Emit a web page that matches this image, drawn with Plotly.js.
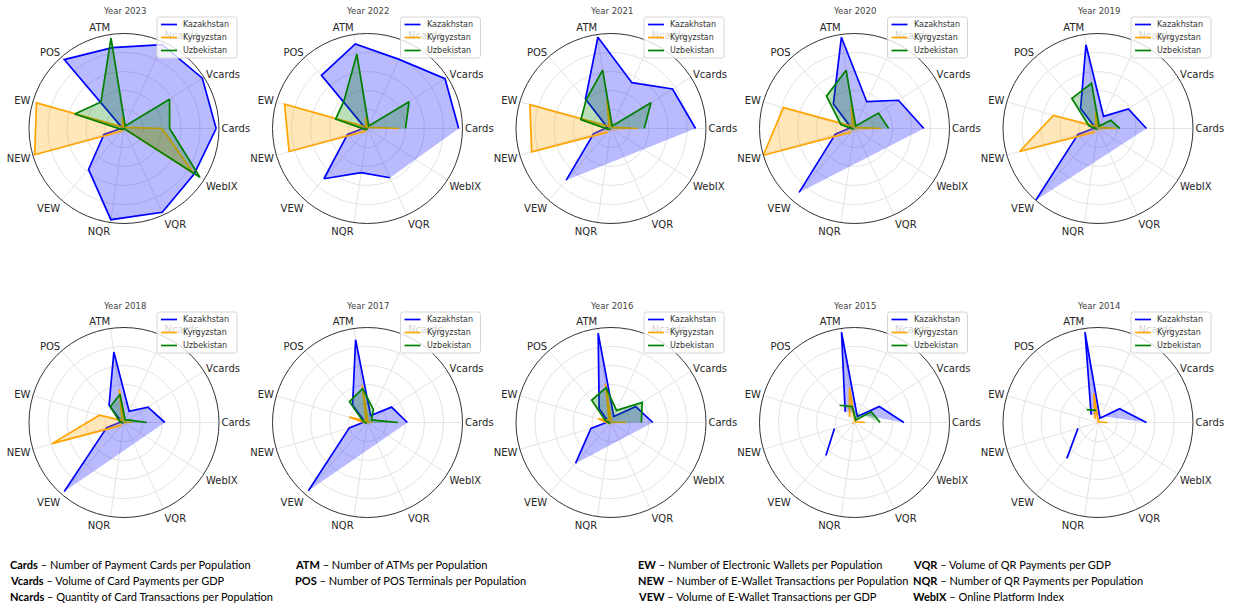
<!DOCTYPE html>
<html>
<head>
<meta charset="utf-8">
<script src="https://cdn.plot.ly/plotly-3.0.1.min.js"></script>
<style>html,body{margin:0;padding:0;background:#fff;}#chart{width:1241px;height:608px;}</style>
</head>
<body>
<div id="chart"></div>
<script>
// ---------- DATA ----------
const categories = ['Cards','Vcards','Ncards','ATM','POS','EW','NEW','VEW','NQR','VQR','WebIX'];
const years = [2023, 2022, 2021, 2020, 2019, 2018, 2017, 2016, 2015, 2014];
const countries = ['Kazakhstan', 'Kyrgyzstan', 'Uzbekistan'];
const N = null;
// values per year (same order as years), each in category order
const kazakhstan = [
  [0.97, 0.98, 0.97, 0.86, 0.96, 0.02, 0.22, 0.57, 0.97, 0.97, 0.88],
  [0.96, 0.97, 0.80, 0.90, 0.74, 0.03, 0.22, 0.70, 0.47, 0.57, N],
  [0.89, 0.77, 0.53, 0.97, 0.41, 0.04, 0.19, 0.72, N, N, N],
  [0.73, 0.55, 0.31, 0.97, 0.34, 0.04, 0.21, 0.89, N, N, N],
  [0.51, 0.38, 0.14, 0.89, 0.28, 0.03, 0.22, 1.00, N, N, N],
  [0.43, 0.30, 0.13, 0.75, 0.24, 0.03, 0.19, 0.96, N, N, N],
  [0.42, 0.30, 0.08, 0.88, 0.24, 0.03, 0.20, 0.95, N, N, N],
  [0.44, 0.31, 0.07, 0.95, 0.19, 0.03, 0.22, 0.57, N, N, N],
  [0.52, 0.31, 0.07, 0.96, 0.15, N, 0.22, 0.46, N, N, N],
  [0.51, 0.27, 0.05, 0.96, 0.11, N, 0.22, 0.50, N, N, N]
];
const kyrgyzstan = [
  [0.40, 0.02, 0.02, 0.12, 0.02, 0.96, 0.98, 0.04, 0.00, 0.00, 0.87],
  [0.33, 0.02, 0.02, 0.12, 0.02, 0.91, 0.86, 0.04, 0.00, 0.00, N],
  [0.28, 0.02, 0.02, 0.30, 0.03, 0.89, 0.87, 0.05, N, N, N],
  [0.28, 0.02, 0.02, 0.25, 0.03, 0.78, 1.00, 0.05, N, N, N],
  [0.19, 0.02, 0.02, 0.18, 0.03, 0.49, 0.86, 0.05, N, N, N],
  [0.08, 0.01, 0.02, 0.35, 0.03, 0.27, 0.79, 0.04, N, N, N],
  [0.05, 0.01, 0.01, 0.40, 0.02, 0.20, 0.02, 0.02, N, N, N],
  [0.16, 0.01, 0.01, 0.41, 0.03, 0.14, 0.03, 0.02, N, N, N],
  [0.11, 0.01, 0.01, 0.37, 0.08, N, 0.02, 0.02, N, N, N],
  [0.10, 0.01, 0.01, 0.31, 0.05, N, 0.01, 0.01, N, N, N]
];
const uzbekistan = [
  [0.48, 0.57, 0.03, 0.96, 0.37, 0.54, 0.03, 0.01, 0.00, 0.00, 0.95],
  [0.40, 0.52, 0.03, 0.79, 0.38, 0.35, 0.03, 0.01, 0.00, 0.00, N],
  [0.35, 0.50, 0.03, 0.62, 0.40, 0.33, 0.03, 0.01, N, N, N],
  [0.36, 0.30, 0.03, 0.62, 0.45, 0.15, 0.02, 0.01, N, N, N],
  [0.23, 0.16, 0.03, 0.48, 0.42, 0.10, 0.02, 0.01, N, N, N],
  [0.24, 0.05, 0.03, 0.30, 0.22, 0.05, 0.02, 0.01, N, N, N],
  [0.32, 0.05, 0.15, 0.36, 0.29, 0.05, 0.02, 0.01, N, N, N],
  [0.32, 0.39, 0.14, 0.37, 0.31, 0.06, 0.02, 0.01, N, N, N],
  [0.27, 0.21, 0.03, 0.17, 0.24, N, N, N, N, N, N],
  [N, N, N, 0.13, 0.18, N, N, N, N, N, N]
];
const seriesData = [kazakhstan, kyrgyzstan, uzbekistan];
const lineColors = ['#0000ff', '#ffa500', '#008000'];
const fillColors = ['rgba(0,0,255,0.27)', 'rgba(255,165,0,0.27)', 'rgba(0,128,0,0.27)'];

const footerCols = [
  [['Cards','Number of Payment Cards per Population'],['Vcards','Volume of Card Payments per GDP'],['Ncards','Quantity of Card Transactions per Population']],
  [['ATM','Number of ATMs per Population'],['POS','Number of POS Terminals per Population']],
  [['EW','Number of Electronic Wallets per Population'],['NEW','Number of E-Wallet Transactions per Population'],['VEW','Volume of E-Wallet Transactions per GDP']],
  [['VQR','Volume of QR Payments per GDP'],['NQR','Number of QR Payments per Population'],['WebIX','Online Platform Index']]
];

// ---------- LAYOUT ----------
const W = 1241, H = 608;
const centersX = [124, 367.5, 611, 854.5, 1098];
const centersY = [128.5, 422.5];
const R = 95;
const legendTops = [17, 312];
const footerX = [9, 294, 637, 912];
const footerLineY = [564.5, 580.5, 596];

const px = x => x / W;
const py = y => 1 - y / H;

const traces = [];
const layout = {
  width: W, height: H,
  margin: {l: 0, r: 0, t: 0, b: 0},
  paper_bgcolor: '#ffffff',
  font: {family: 'DejaVu Sans', color: '#222'},
  annotations: [],
  shapes: [],
  showlegend: false
};

years.forEach((yr, i) => {
  const row = Math.floor(i / 5), col = i % 5;
  const cx = centersX[col], cy = centersY[row];
  const pid = i === 0 ? '' : String(i + 1);
  const polarName = 'polar' + pid;
  layout[polarName] = {
    domain: {x: [px(cx - R), px(cx + R)], y: [py(cy + R), py(cy - R)]},
    bgcolor: '#ffffff',
    angularaxis: {
      type: 'category', categoryorder: 'array', categoryarray: categories,
      rotation: 0, direction: 'counterclockwise',
      showline: true, linecolor: '#333', linewidth: 1,
      gridcolor: '#e4e4e4', gridwidth: 1, ticks: '',
      tickfont: {size: 10, color: '#262626', family: 'DejaVu Sans'}
    },
    radialaxis: {
      range: [0, 1], tick0: 0, dtick: 0.2, showticklabels: false, ticks: '',
      showline: false, gridcolor: '#e4e4e4', gridwidth: 1
    }
  };
  layout.annotations.push({
    text: 'Year ' + yr, xref: 'paper', yref: 'paper',
    x: px(cx), y: py(row === 0 ? 10.5 : 306),
    xanchor: 'center', yanchor: 'middle', showarrow: false,
    font: {size: 8.5, color: '#444', family: 'DejaVu Sans'}
  });

  // legend box (one per panel, drawn above the plot like the reference)
  const lt = legendTops[row];
  const bx0 = cx + 33, bx1 = cx + 113, by0 = lt, by1 = lt + 41, rr = 2.5;
  layout.shapes.push({
    type: 'path', xref: 'paper', yref: 'paper', layer: 'above',
    path: `M ${px(bx0 + rr)},${py(by0)} L ${px(bx1 - rr)},${py(by0)} Q ${px(bx1)},${py(by0)} ${px(bx1)},${py(by0 + rr)} ` +
          `L ${px(bx1)},${py(by1 - rr)} Q ${px(bx1)},${py(by1)} ${px(bx1 - rr)},${py(by1)} ` +
          `L ${px(bx0 + rr)},${py(by1)} Q ${px(bx0)},${py(by1)} ${px(bx0)},${py(by1 - rr)} ` +
          `L ${px(bx0)},${py(by0 + rr)} Q ${px(bx0)},${py(by0)} ${px(bx0 + rr)},${py(by0)} Z`,
    fillcolor: 'rgba(255,255,255,0.8)', line: {color: '#d6d6d6', width: 1}
  });

  countries.forEach((cname, k) => {
    const vals = seriesData[k][i];
    const rClosed = vals.concat([vals[0]]);
    const tClosed = categories.concat([categories[0]]);
    // outline (breaks at missing values)
    traces.push({
      type: 'scatterpolar', subplot: polarName,
      r: rClosed, theta: tClosed, mode: 'lines', connectgaps: false,
      line: {color: lineColors[k], width: 1.7},
      name: cname, hoverinfo: 'skip'
    });
    // fill: each run of consecutive present values is filled as its own polygon
    let run = [];
    const flush = () => {
      if (run.length >= 3) {
        traces.push({
          type: 'scatterpolar', subplot: polarName,
          r: run.map(p => p[0]), theta: run.map(p => p[1]),
          mode: 'lines', fill: 'toself', fillcolor: fillColors[k],
          line: {width: 0, color: 'rgba(0,0,0,0)'},
          name: cname, hoverinfo: 'skip'
        });
      }
      run = [];
    };
    rClosed.forEach((v, j) => {
      if (v === null) { flush(); } else { run.push([v, tClosed[j]]); }
    });
    flush();

    // legend entry
    const ey = lt + 7.5 + k * 13;
    layout.shapes.push({
      type: 'line', xref: 'paper', yref: 'paper', layer: 'above',
      x0: px(cx + 37), x1: px(cx + 53), y0: py(ey), y1: py(ey),
      line: {color: lineColors[k], width: 1.7}
    });
    layout.annotations.push({
      text: cname, xref: 'paper', yref: 'paper', x: px(cx + 58), y: py(ey),
      xanchor: 'left', yanchor: 'middle', showarrow: false, borderpad: 0,
      font: {size: 8, color: '#333', family: 'DejaVu Sans'}
    });
  });
});

footerCols.forEach((colItems, c) => {
  colItems.forEach(([t, d], li) => {
    layout.annotations.push({
      text: '<b>' + t + '</b> \u2013 ' + d,
      xref: 'paper', yref: 'paper', x: px(footerX[c]), y: py(footerLineY[li]),
      xanchor: 'left', yanchor: 'middle', align: 'left', showarrow: false, borderpad: 0,
      font: {size: 11, color: '#000', family: 'Lato'}
    });
  });
});

Plotly.newPlot('chart', traces, layout, {displayModeBar: false, staticPlot: true});
</script>
</body>
</html>
